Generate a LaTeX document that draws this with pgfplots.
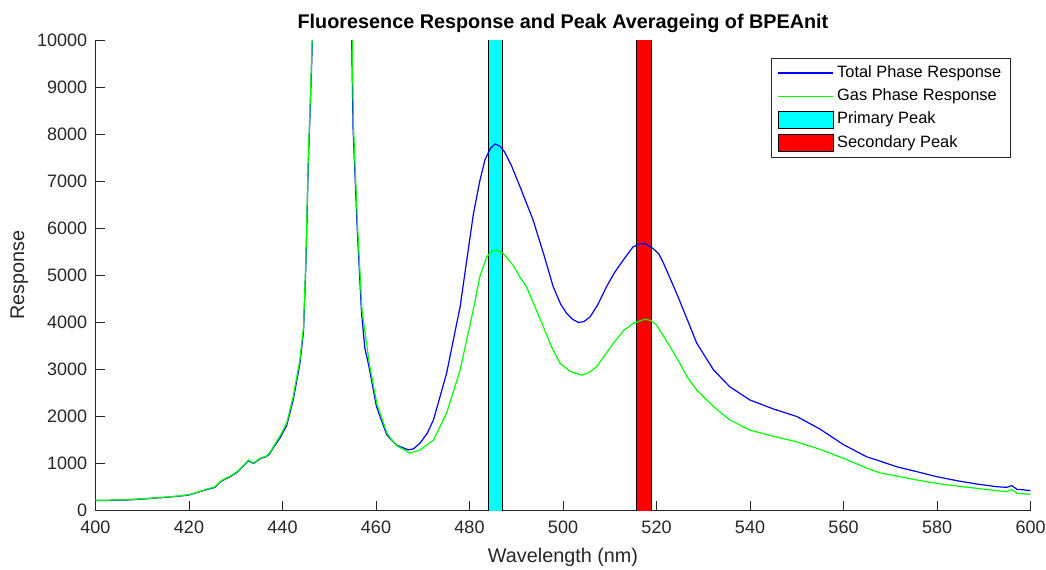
\documentclass[border=0pt]{standalone}
\usepackage{pgfplots}
\pgfplotsset{compat=1.18}
\usepackage{fontspec}
\setmainfont{Liberation Sans}

\definecolor{axgray}{rgb}{0.15,0.15,0.15}
\definecolor{mblue}{rgb}{0,0,1}
\definecolor{mgreen}{rgb}{0,1,0}
\definecolor{mcyan}{rgb}{0,1,1}
\definecolor{mred}{rgb}{1,0,0}
\pgfplotsset{
  linelegend/.style={legend image code/.code={\draw[##1] (0pt,0pt) -- (27.5pt,0pt);}},
  boxlegend/.style={legend image code/.code={\draw[##1] (0pt,-4.25pt) rectangle (27.5pt,4.25pt);}},
}

\pgfplotstableread{
x y
400 200
403 205
407 215
411 240
415 270
418 295
420 320
422 380
424 440
425.5 480
427 620
429 720
430.5 820
431.6 930
432.7 1050
433.8 990
435.2 1090
436.6 1140
437.3 1200
438 1320
439.5 1540
440.9 1800
442.3 2350
443.7 3100
444.5 3800
445 5200
445.5 7300
446 8750
446.4 10000
447.2 14000
450 30000
454 14000
454.8 10000
455.1 8100
456 5950
456.9 4200
457.6 3450
458.5 3050
460.1 2200
462.3 1600
464.4 1380
466.9 1280
468 1300
469.4 1420
471 1640
472.3 1920
475.1 2910
478 4330
480.8 6280
482.2 7000
483.3 7450
484.5 7700
485.5 7790
486.5 7740
487.5 7620
489 7320
490.8 6880
493.6 6170
496 5400
497.9 4750
499.5 4380
500.8 4180
502 4060
503.3 3990
504.5 4010
505.8 4110
507.5 4380
509.3 4750
511 5050
512.9 5320
515 5600
516.5 5660
517.5 5670
519.3 5560
520.5 5450
521.5 5250
524.3 4610
527.2 3900
528.6 3550
530.5 3250
532.2 2980
535.7 2620
540 2340
545 2150
550 1990
555 1720
560 1390
565 1130
567.1 1064
571.4 920
575.7 816
579.9 710
584.2 625
588.5 553
592.8 496
594.9 482
596 518
597.1 440
598.5 430
600 411
}\total

\pgfplotstableread{
x y
400 205
403 210
407 220
411 245
415 275
418 300
420 325
422 385
424 450
425.5 490
427 630
429 730
430.5 830
431.6 940
432.7 1060
433.8 1000
435.2 1100
436.6 1150
437.3 1220
438 1340
439.5 1580
440.9 1850
442.3 2420
443.7 3180
444.5 3900
445 5350
445.5 7450
446 8900
446.35 10000
447.2 14000
450 30000
454.1 14000
454.9 10000
455.2 8100
456.1 5950
457 4250
458.6 3100
460.2 2250
462.4 1620
464.4 1370
467.3 1210
469.4 1275
472.3 1490
475.1 2060
478 2980
480.8 4255
482.2 4965
483.7 5390
484.8 5510
485.8 5530
487.2 5460
489.4 5200
490.8 4950
492.2 4750
495.8 3900
497.5 3480
499.4 3120
501.5 2950
504 2870
505.5 2920
507.2 3050
510.8 3550
513 3820
515 3970
517.5 4060
518.8 4030
520 3940
522.9 3475
525 3120
526.5 2840
528.6 2550
532.2 2200
535.7 1915
540 1700
545 1570
550 1450
555 1290
560 1100
565 890
567.8 790
571.4 723
575.7 638
579.9 567
584.2 511
588.5 461
592.8 411
594.9 390
596 440
597.1 355
598.5 345
600 333
}\gas

\begin{document}
\begin{tikzpicture}
\begin{axis}[
  scale only axis,
  width=467.5pt, height=235pt,
  xmin=400, xmax=600, ymin=0, ymax=10000,
  xtick={400,420,...,600},
  ytick={0,1000,...,10000},
  axis x line*=bottom, axis y line*=left,
  axis line style={axgray, line width=0.5pt},
  tick align=inside,
  major tick length=4.5pt,
  tick style={axgray, line width=0.5pt},
  scaled y ticks=false,
  /pgf/number format/assume math mode=true,
  /pgf/number format/1000 sep={},
  tick label style={font=\fontsize{9}{11}\selectfont, text=axgray},
  yticklabel style={inner sep=0pt, xshift=-4pt},
  xticklabel style={inner sep=0pt, yshift=-5.5pt},
  title={Fluoresence Response and Peak Averageing of BPEAnit},
  title style={font=\bfseries\fontsize{9.9}{12}\selectfont, inner sep=0pt, at={(axis description cs:0.5,1)}, anchor=south, yshift=-2.5pt},
  xlabel={Wavelength (nm)},
  xlabel style={font=\fontsize{9.9}{12}\selectfont, text=axgray, inner sep=0pt, at={(axis description cs:0.5,-0.0809)}, anchor=north},
  ylabel={Response},
  ylabel style={font=\fontsize{9.9}{12}\selectfont, text=axgray, inner sep=0pt, at={(axis description cs:-0.0813,0.5)}, anchor=center},
  legend style={at={(0.979,0.962)}, anchor=north east, draw=axgray, fill=white,
    font=\fontsize{8.2}{10}\selectfont, inner xsep=3pt, inner ysep=2pt,
    row sep=1pt, cells={anchor=west}, nodes={inner sep=1.6pt}},
]
\addplot[fill=mcyan, draw=black, line width=0.4pt, forget plot]
  coordinates {(484,-300) (484,10300) (487,10300) (487,-300) (484,-300)};
\addplot[fill=mred, draw=black, line width=0.4pt, forget plot]
  coordinates {(515.8,-300) (515.8,10300) (518.8,10300) (518.8,-300) (515.8,-300)};
\addplot[mblue, line width=0.6pt, linelegend] table[x=x, y=y] {\total};
\addlegendentry{Total Phase Response}
\addplot[mgreen, line width=0.6pt, linelegend] table[x=x, y=y] {\gas};
\addlegendentry{Gas Phase Response}
\addlegendimage{fill=mcyan, draw=black, line width=0.4pt, boxlegend}
\addlegendentry{Primary Peak}
\addlegendimage{fill=mred, draw=black, line width=0.4pt, boxlegend}
\addlegendentry{Secondary Peak}
\coordinate (sw) at (rel axis cs:0,0);
\coordinate (ne) at (rel axis cs:1,1);
\end{axis}
\pgfresetboundingbox
\path ([xshift=-47.75pt,yshift=-29.5pt]sw) rectangle ([xshift=7.75pt,yshift=20pt]ne);
\end{tikzpicture}
\end{document}
